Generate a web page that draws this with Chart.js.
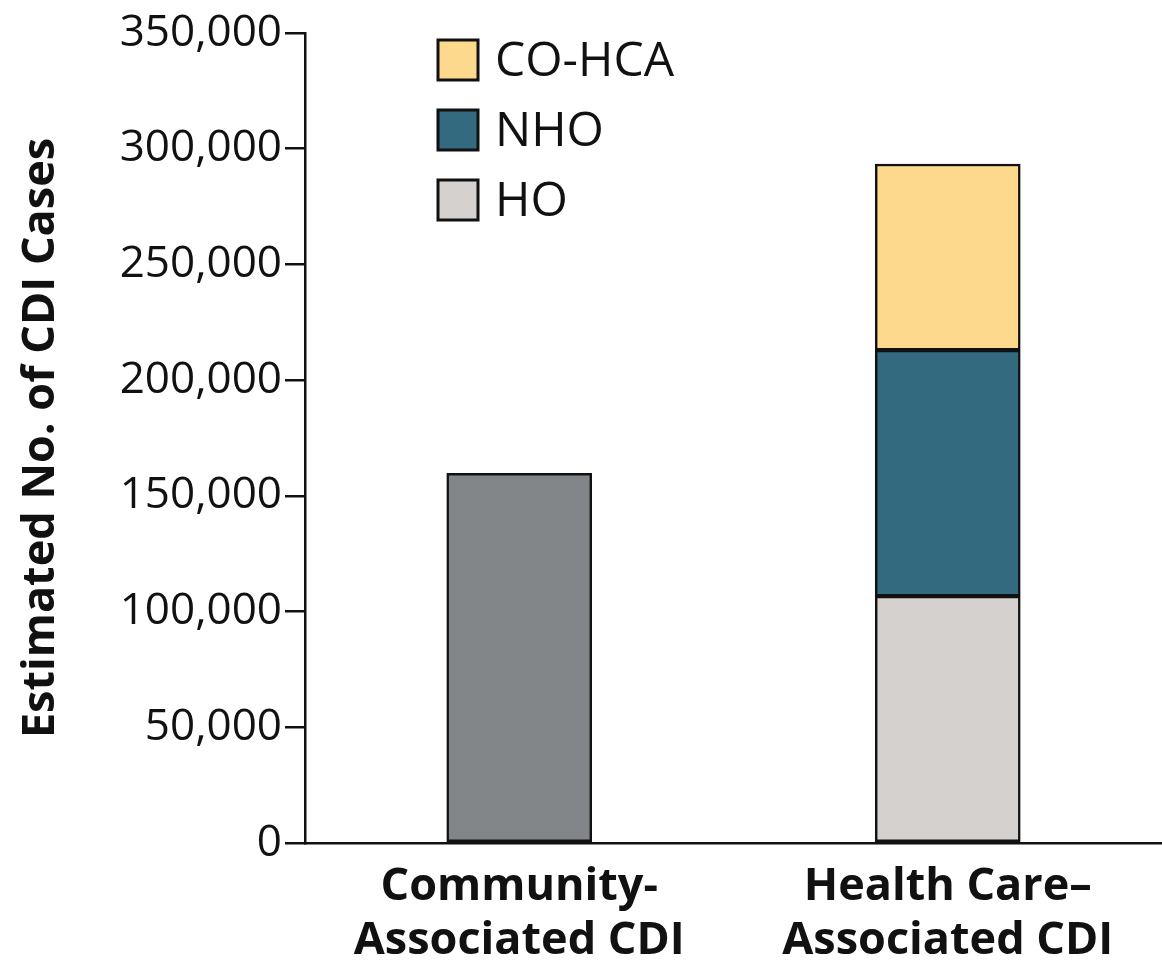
<!DOCTYPE html>
<html>
<head>
<meta charset="utf-8">
<script src="https://cdn.jsdelivr.net/npm/chart.js@4/dist/chart.umd.min.js"></script>
<style>
  html, body { margin: 0; padding: 0; background: #fff; overflow: hidden; }
  #wrap { width: 1162px; height: 969px; }
</style>
</head>
<body>
<div id="wrap"><canvas id="chart"></canvas></div>
<script>
// categories and values
const categories = [['Community-', 'Associated CDI'], ['Health Care–', 'Associated CDI']];
const communityCases = [159700, null];
const hoCases = [null, 106700];
const nhoCases = [null, 106300];
const coHcaCases = [null, 80400];
const yTicks = [0, 50000, 100000, 150000, 200000, 250000, 300000, 350000];

// legend order as in the figure (top to bottom)
const legendItems = ['CO-HCA', 'NHO', 'HO'];

const FONT = "'Open Sans', 'DejaVu Sans', sans-serif";

const boxLegend = {
    id: 'boxLegend',
    afterDraw(chart) {
        const ctx = chart.ctx;
        const area = chart.chartArea;
        ctx.save();
        legendItems.forEach((name, i) => {
            const ds = chart.data.datasets.find(d => d.label === name);
            const x = area.left + 133, y = 40 + i * 70;
            ctx.fillStyle = ds.backgroundColor;
            ctx.fillRect(x, y, 40, 40);
            ctx.lineWidth = 3;
            ctx.strokeStyle = '#111';
            ctx.strokeRect(x, y, 40, 40);
            ctx.fillStyle = '#111';
            ctx.font = '48px ' + FONT;
            ctx.textBaseline = 'middle';
            ctx.fillText(name, x + 57, y + 22);
        });
        ctx.restore();
    }
};

const barStyle = { borderColor: '#111', borderWidth: 2.5, borderSkipped: false, barThickness: 145 };

new Chart(document.getElementById('chart'), {
    type: 'bar',
    data: {
        labels: categories,
        datasets: [
            { label: 'Community', data: communityCases, backgroundColor: '#818588', ...barStyle },
            { label: 'HO', data: hoCases, backgroundColor: '#d5d1ce', ...barStyle },
            { label: 'NHO', data: nhoCases, backgroundColor: '#336a80', ...barStyle },
            { label: 'CO-HCA', data: coHcaCases, backgroundColor: '#fdd98d', ...barStyle }
        ]
    },
    options: {
        responsive: true, maintainAspectRatio: false, animation: false,
        layout: { padding: { top: 33, right: 0, left: 0, bottom: 0 } },
        plugins: { legend: { display: false }, tooltip: { enabled: false } },
        scales: {
            x: {
                stacked: true,
                grid: { display: false, drawTicks: false },
                border: { display: true, color: '#111', width: 2.5 },
                ticks: { color: '#111', padding: 17, font: { family: FONT, size: 45, weight: 'bold', lineHeight: 1.2 } },
                afterFit(scale) { scale.height = 126; }
            },
            y: {
                stacked: true, min: 0, max: 350000,
                afterBuildTicks(scale) { scale.ticks = yTicks.map(v => ({ value: v })); },
                grid: { drawOnChartArea: false, drawTicks: true, tickLength: 20, color: '#111', lineWidth: 2.5 },
                border: { display: true, color: '#111', width: 2.5 },
                ticks: {
                    color: '#111', padding: 3,
                    font: { family: FONT, size: 44 },
                    callback: v => v.toLocaleString('en-US')
                },
                title: {
                    display: true, text: 'Estimated No. of CDI Cases', color: '#111',
                    font: { family: FONT, size: 45, weight: 'bold' }, padding: { top: 14, bottom: 0 }
                },
                afterFit(scale) { scale.width = 305; }
            }
        }
    },
    plugins: [boxLegend]
});
</script>
</body>
</html>
